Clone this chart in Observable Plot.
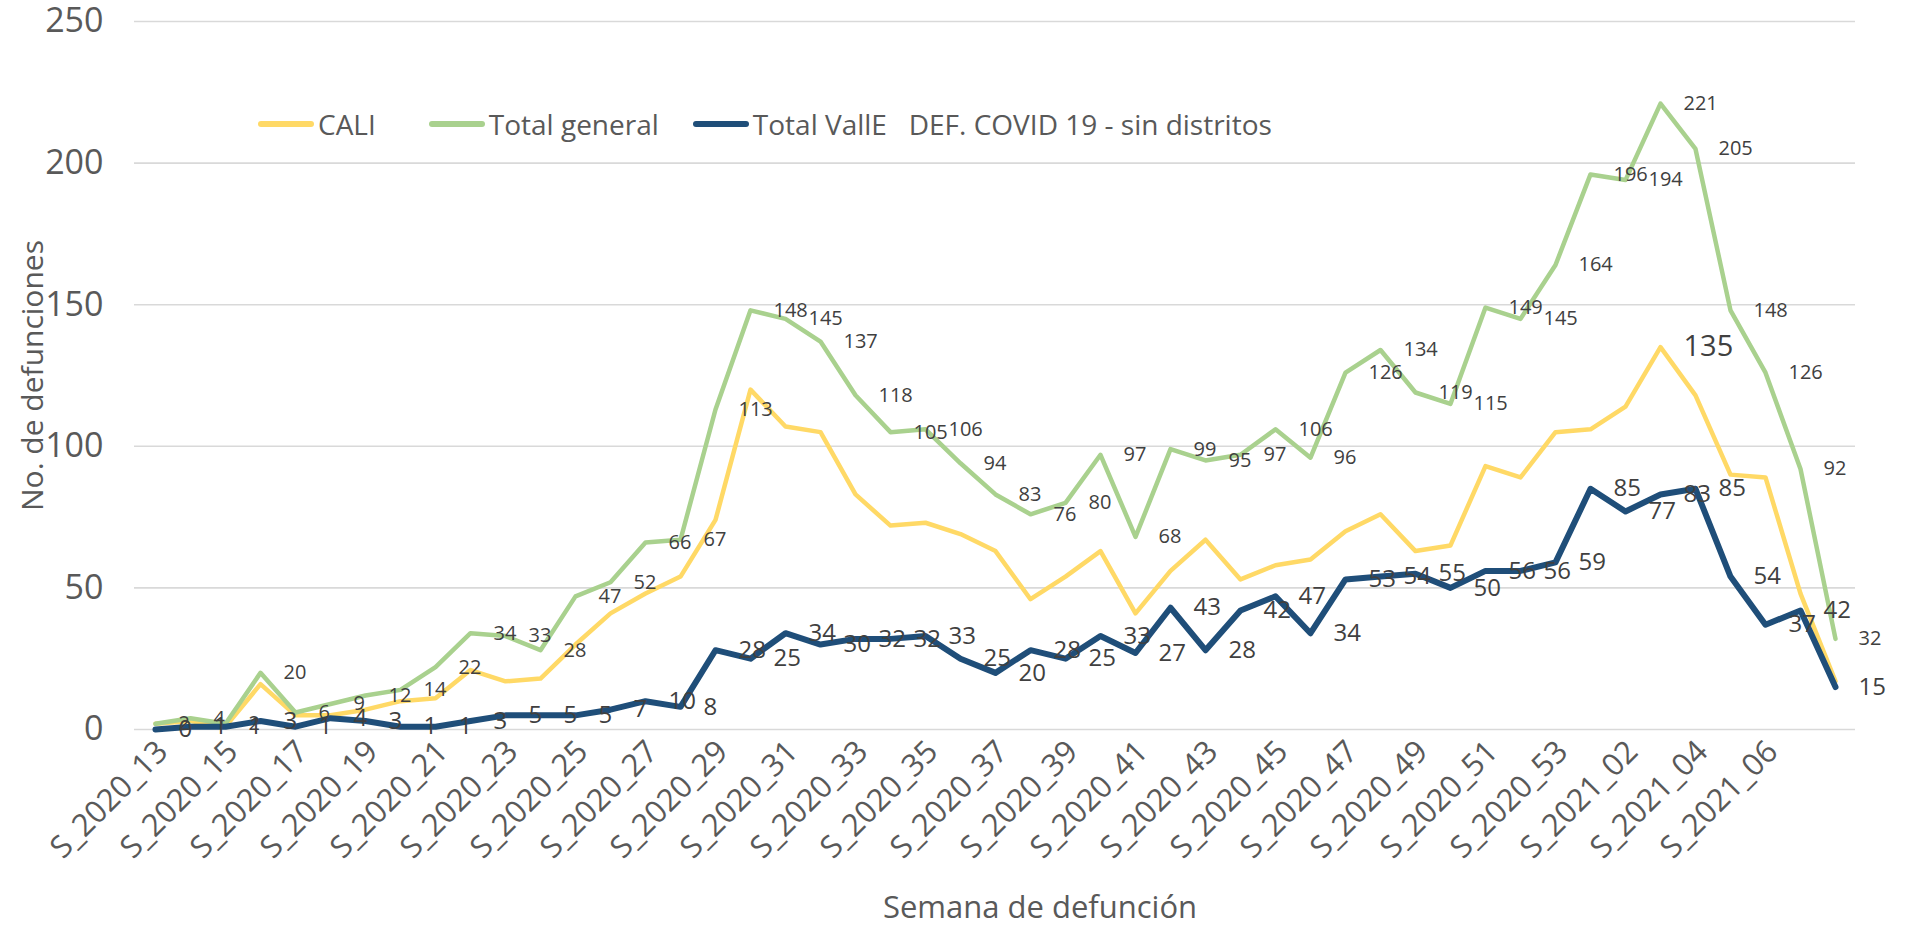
<!DOCTYPE html>
<html>
<head>
<meta charset="utf-8">
<script src="https://cdn.jsdelivr.net/npm/d3@7"></script>
<script src="https://cdn.jsdelivr.net/npm/@observablehq/plot@0.6"></script>
<style>
  body { margin: 0; background: #ffffff; }
  #wrap { position: relative; width: 1911px; height: 927px; font-family: "Open Sans", sans-serif; }
  #legend { position: absolute; left: 258px; top: 104px; height: 40px; display: flex; align-items: center;
            font-size: 28px; line-height: 40px; color: #595959; white-space: pre; }
  .item { display: flex; align-items: center; margin-right: 34px; }
  .item:first-child { margin-right: 53px; }
  .sw { display: inline-block; width: 56px; height: 6px; border-radius: 3px; margin-right: 4px; }
</style>
</head>
<body>
<div id="wrap"><div id="legend"></div></div>
<script>
// ---- Data ----
const weeks = [
  "S_2020_13","S_2020_14","S_2020_15","S_2020_16","S_2020_17","S_2020_18","S_2020_19","S_2020_20",
  "S_2020_21","S_2020_22","S_2020_23","S_2020_24","S_2020_25","S_2020_26","S_2020_27","S_2020_28",
  "S_2020_29","S_2020_30","S_2020_31","S_2020_32","S_2020_33","S_2020_34","S_2020_35","S_2020_36",
  "S_2020_37","S_2020_38","S_2020_39","S_2020_40","S_2020_41","S_2020_42","S_2020_43","S_2020_44",
  "S_2020_45","S_2020_46","S_2020_47","S_2020_48","S_2020_49","S_2020_50","S_2020_51","S_2020_52",
  "S_2020_53","S_2021_01","S_2021_02","S_2021_03","S_2021_04","S_2021_05","S_2021_06","S_2021_07",
  "S_2021_08"
];
const cali = [2,3,1,16,5,5,7,10,11,21,17,18,30,41,48,54,74,120,107,105,83,72,73,69,63,46,54,63,41,56,
              67,53,58,60,70,76,63,65,93,89,105,106,114,135,118,90,89,48,17];
const totalGeneral = [2,4,2,20,6,9,12,14,22,34,33,28,47,52,66,67,113,148,145,137,118,105,106,94,83,76,
                      80,97,68,99,95,97,106,96,126,134,119,115,149,145,164,196,194,221,205,148,126,92,32];
const totalValle = [0,1,1,3,1,4,3,1,1,3,5,5,5,7,10,8,28,25,34,30,32,32,33,25,20,28,25,33,27,43,28,42,
                    47,34,53,54,55,50,56,56,59,85,77,83,85,54,37,42,15];
const tickLabels = [
  "S_2020_13","S_2020_15","S_2020_17","S_2020_19","S_2020_21","S_2020_23","S_2020_25","S_2020_27",
  "S_2020_29","S_2020_31","S_2020_33","S_2020_35","S_2020_37","S_2020_39","S_2020_41","S_2020_43",
  "S_2020_45","S_2020_47","S_2020_49","S_2020_51","S_2020_53","S_2021_02","S_2021_04","S_2021_06"
];
const yTicks = [0, 50, 100, 150, 200, 250];
const seriesNames = ["CALI", "Total general", "Total VallE   DEF. COVID 19 - sin distritos"];
const seriesColors = ["#FFD966", "#A9D18E", "#1F4E79"];
const yTitle = "No. de defunciones";
const xTitle = "Semana de defunción";

// ---- Build tables ----
const toRows = vals => weeks.map((w, i) => ({week: w, value: vals[i]}));
const caliRows = toRows(cali);
const generalRows = toRows(totalGeneral);
const valleRows = toRows(totalValle);
const caliPeak = [caliRows.reduce((a, b) => (b.value > a.value ? b : a))];

const lineStyle = {x: "week", y: "value", strokeLinejoin: "round", strokeLinecap: "round"};
const labelStyle = {x: "week", y: "value", text: d => String(d.value), textAnchor: "start",
                    lineAnchor: "middle", dx: 23, fill: "#404040"};

const chart = Plot.plot({
  width: 1911,
  height: 927,
  marginTop: 21,
  marginBottom: 198,
  marginLeft: 134,
  marginRight: 56,
  style: {fontFamily: '"Open Sans", sans-serif', background: "#ffffff", overflow: "visible"},
  x: {type: "point", domain: weeks, padding: 0.5, axis: null},
  y: {domain: [0, 250]},
  marks: [
    Plot.gridY({ticks: yTicks, stroke: "#d9d9d9", strokeOpacity: 1, strokeWidth: 1.6}),
    Plot.axisY({ticks: yTicks, tickSize: 0, tickPadding: 31, fontSize: 34, fill: "#595959", label: null}),
    Plot.text(tickLabels, {x: d => d, frameAnchor: "bottom", rotate: -45, textAnchor: "end",
                           lineAnchor: "bottom", dx: 14, dy: 24, fontSize: 31, fill: "#595959"}),
    Plot.text([yTitle], {frameAnchor: "left", rotate: -90, textAnchor: "middle", lineAnchor: "middle",
                         dx: -101, fontSize: 30, fill: "#595959"}),
    Plot.text([xTitle], {frameAnchor: "bottom", textAnchor: "middle", lineAnchor: "middle",
                         dx: 45, dy: 179, fontSize: 31, fill: "#595959"}),
    Plot.line(caliRows, {...lineStyle, stroke: seriesColors[0], strokeWidth: 4.5}),
    Plot.line(generalRows, {...lineStyle, stroke: seriesColors[1], strokeWidth: 4.5}),
    Plot.line(valleRows, {...lineStyle, stroke: seriesColors[2], strokeWidth: 6}),
    Plot.text(generalRows, {...labelStyle, fontSize: 20}),
    Plot.text(valleRows, {...labelStyle, fontSize: 24}),
    Plot.text(caliPeak, {...labelStyle, fontSize: 29})
  ]
});
document.getElementById("wrap").prepend(chart);

// ---- Legend ----
const legend = document.getElementById("legend");
seriesNames.forEach((name, i) => {
  const item = document.createElement("div");
  item.className = "item";
  const sw = document.createElement("span");
  sw.className = "sw";
  sw.style.background = seriesColors[i];
  const t = document.createElement("span");
  t.textContent = name;
  item.append(sw, t);
  legend.append(item);
});
</script>
</body>
</html>
